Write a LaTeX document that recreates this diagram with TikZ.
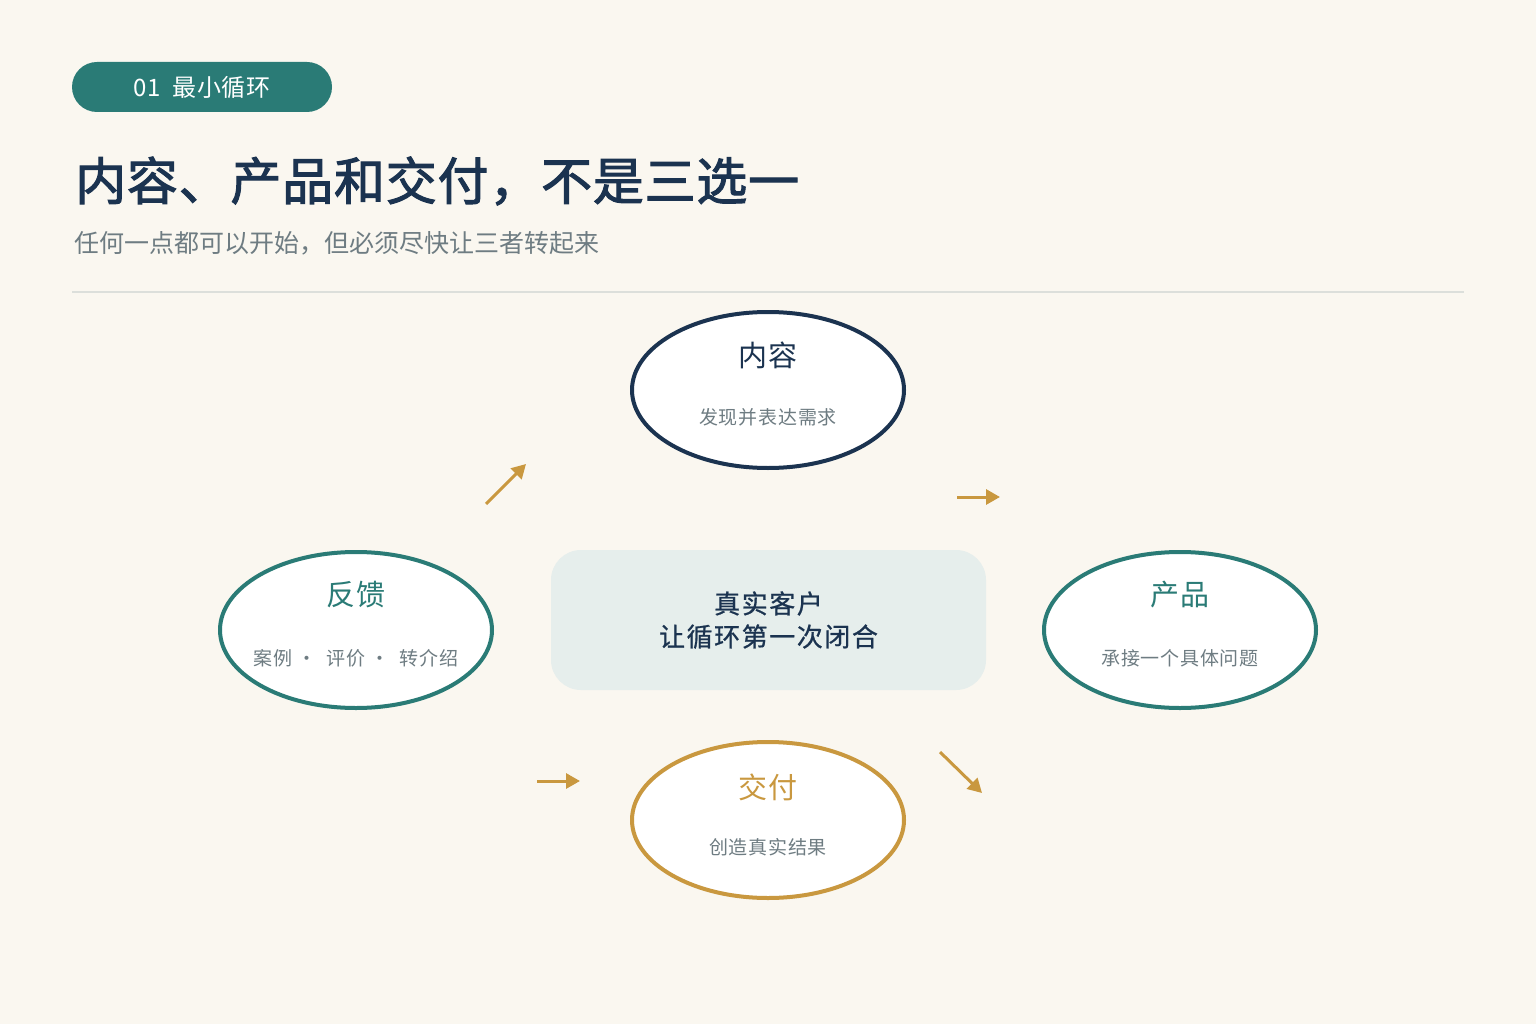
\documentclass[tikz,border=0pt]{standalone}
\usepackage{fontspec}
\setmainfont{Noto Sans CJK SC}
\usetikzlibrary{shapes.geometric,arrows.meta,positioning}
\definecolor{cream}{HTML}{FAF7F0}
\definecolor{navy}{HTML}{1B3350}
\definecolor{teal}{HTML}{2A7B76}
\definecolor{gold}{HTML}{C9983F}
\definecolor{greytxt}{HTML}{6E7C82}
\definecolor{boxfill}{HTML}{E6EEEC}
\definecolor{rulegrey}{HTML}{DCDFDB}
\tikzset{
  ring/.style={ellipse, draw, line width=4pt, fill=white,
    minimum width=272pt, minimum height=156pt, inner sep=0pt},
  ringhead/.style={font=\fontsize{29}{31}\selectfont\addfontfeature{LetterSpace=3}, inner sep=0pt},
  ringsub/.style={font=\fontsize{19}{21}\selectfont\addfontfeature{LetterSpace=4}, text=greytxt, inner sep=0pt},
  flow/.style={gold, line width=3pt, -{Triangle[length=14pt,width=15pt]}}
}
\begin{document}
\begin{tikzpicture}[x=1pt,y=-1pt]
  \fill[cream] (0,0) rectangle (1536,1024);
  \useasboundingbox (0,0) rectangle (1536,1024);
  % header
  \node[fill=teal, rounded corners=25pt, minimum width=260pt, minimum height=50pt,
    text=white, font=\fontsize{24}{26}\selectfont\addfontfeature{LetterSpace=2}] (tag) at (202,87) {01\ \ 最小循环};
  \node[anchor=west, inner sep=0pt, text=navy,
    font=\fontsize{51}{53}\selectfont\addfontfeature{FakeBold=2,LetterSpace=1.5}]
    (title) at (75,181) {内容、产品和交付，不是三选一};
  \node[anchor=west, inner sep=0pt, text=greytxt, font=\fontsize{25}{27}\selectfont]
    (subtitle) at (74,243) {任何一点都可以开始，但必须尽快让三者转起来};
  \coordinate (ruleL) at (72,292);
  \coordinate (ruleR) at (1464,292);
  \draw[rulegrey, line width=2.5pt] (ruleL) -- (ruleR);
  % centre
  \node[fill=boxfill, rounded corners=30pt, minimum width=435pt, minimum height=140pt,
    inner sep=0pt] (hub) at (768.5,620) {};
  \node[text=navy, align=center,
    font=\fontsize{26}{33}\selectfont\addfontfeature{LetterSpace=6,FakeBold=0.8}]
    at (hub) {真实客户\\让循环第一次闭合};
  % the four stages
  \node[ring, draw=navy] (neirong) at (768,390) {};
  \node[ringhead, text=navy] at ([yshift=35pt]neirong.center) {内容};
  \node[ringsub] at ([yshift=-27pt]neirong.center) {发现并表达需求};

  \node[ring, draw=teal] (fankui) at (356,630) {};
  \node[ringhead, text=teal] at ([yshift=35pt]fankui.center) {反馈};
  \node[ringsub] at ([yshift=-28pt]fankui.center) {案例 ·\ \ 评价 ·\ \ 转介绍};

  \node[ring, draw=teal] (chanpin) at (1180,630) {};
  \node[ringhead, text=teal] at ([yshift=35pt]chanpin.center) {产品};
  \node[ringsub] at ([yshift=-28pt]chanpin.center) {承接一个具体问题};

  \node[ring, draw=gold] (jiaofu) at (768,820) {};
  \node[ringhead, text=gold] at ([yshift=33pt]jiaofu.center) {交付};
  \node[ringsub] at ([yshift=-27pt]jiaofu.center) {创造真实结果};
  % loop arrows
  \coordinate (upS) at (486,504);   \coordinate (upE) at (526,464);
  \coordinate (rtS) at (957,497);   \coordinate (rtE) at (1000,497);
  \coordinate (dnS) at (940,752);   \coordinate (dnE) at (982,793);
  \coordinate (lfS) at (537,781);   \coordinate (lfE) at (580,781);
  \draw[flow] (upS) -- (upE);
  \draw[flow] (rtS) -- (rtE);
  \draw[flow] (dnS) -- (dnE);
  \draw[flow] (lfS) -- (lfE);
\end{tikzpicture}
\end{document}
